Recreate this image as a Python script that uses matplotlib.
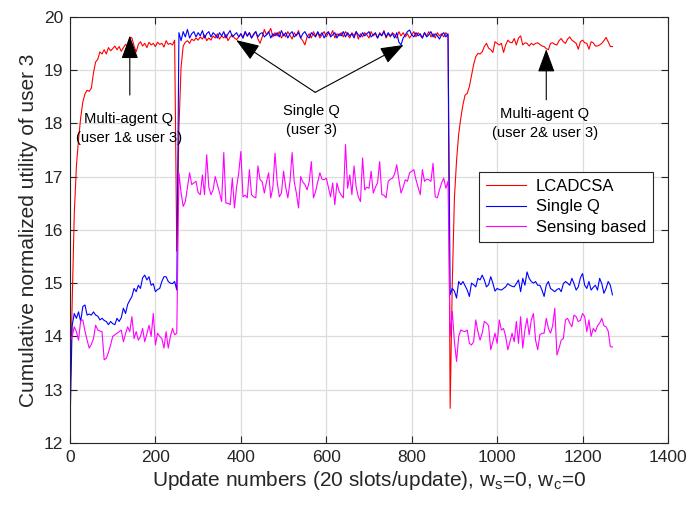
import numpy as np
import matplotlib
matplotlib.use("Agg")
import matplotlib.pyplot as plt

plt.rcParams['font.family'] = ['Liberation Sans', 'DejaVu Sans']
plt.rcParams['mathtext.fontset'] = 'custom'
plt.rcParams['mathtext.rm'] = 'Liberation Sans'

# Update index (one sample every 5 updates)
updates = np.arange(0, 1271, 5)

lcadcsa = [
    12.8, 14.6, 16.3, 17.2, 17.7, 18.1, 18.4, 18.55, 18.62, 18.6,
    18.66, 18.95, 19.15, 19.2, 19.34, 19.3, 19.38, 19.3, 19.42, 19.36,
    19.4, 19.45, 19.38, 19.44, 19.35, 19.42, 19.48, 19.45, 19.62, 19.6,
    19.45, 19.34, 19.48, 19.53, 19.45, 19.5, 19.42, 19.52, 19.47, 19.5,
    19.44, 19.52, 19.48, 19.5, 19.43, 19.55, 19.48, 19.5, 19.47, 19.56,
    15.6, 17.9, 19.05, 19.45, 19.52, 19.55, 19.5, 19.58, 19.55, 19.6,
    19.56, 19.62, 19.58, 19.66, 19.55, 19.6, 19.56, 19.64, 19.6, 19.68,
    19.58, 19.64, 19.6, 19.67, 19.55, 19.62, 19.66, 19.6, 19.57, 19.62,
    19.68, 19.6, 19.72, 19.63, 19.7, 19.6, 19.68, 19.72, 19.58, 19.5,
    19.62, 19.76, 19.66, 19.7, 19.78, 19.62, 19.7, 19.64, 19.72, 19.6,
    19.68, 19.62, 19.72, 19.65, 19.58, 19.7, 19.64, 19.74, 19.6, 19.55,
    19.47, 19.62, 19.68, 19.6, 19.72, 19.64, 19.7, 19.6, 19.66, 19.72,
    19.62, 19.7, 19.65, 19.74, 19.6, 19.68, 19.64, 19.7, 19.62, 19.72,
    19.66, 19.6, 19.7, 19.64, 19.72, 19.58, 19.68, 19.62, 19.7, 19.66,
    19.6, 19.72, 19.64, 19.68, 19.6, 19.7, 19.65, 19.74, 19.6, 19.68,
    19.62, 19.7, 19.66, 19.6, 19.72, 19.64, 19.7, 19.62, 19.68, 19.6,
    19.66, 19.72, 19.62, 19.7, 19.65, 19.6, 19.7, 19.64, 19.72, 19.62,
    19.68, 19.6, 19.7, 19.64, 19.68, 19.62, 19.7, 19.65, 12.65, 15.0,
    16.6, 17.3, 17.8, 18.1, 18.35, 18.53, 18.56, 18.69, 18.9, 19.1,
    19.25, 19.31, 19.3, 19.34, 19.44, 19.5, 19.41, 19.38, 19.33, 19.53,
    19.5, 19.47, 19.5, 19.33, 19.47, 19.56, 19.52, 19.51, 19.59, 19.47,
    19.6, 19.64, 19.47, 19.51, 19.5, 19.45, 19.5, 19.47, 19.5, 19.51,
    19.48, 19.45, 19.44, 19.4, 19.38, 19.5, 19.51, 19.48, 19.47, 19.55,
    19.59, 19.53, 19.5, 19.58, 19.62, 19.56, 19.53, 19.5, 19.39, 19.53,
    19.56, 19.51, 19.5, 19.39, 19.53, 19.51, 19.45, 19.45, 19.47, 19.5,
    19.55, 19.61, 19.53, 19.44, 19.44,
]

single_q = [
    12.3, 14.2, 14.43, 14.34, 14.46, 14.28, 14.56, 14.59, 14.4, 14.42,
    14.4, 14.46, 14.4, 14.38, 14.31, 14.34, 14.3, 14.28, 14.22, 14.28,
    14.24, 14.22, 14.34, 14.28, 14.35, 14.53, 14.43, 14.6, 14.68, 14.75,
    14.9, 14.84, 14.96, 14.9, 15.1, 15.15, 15.06, 15.12, 14.96, 14.99,
    14.84, 14.88, 14.9, 15.03, 15.12, 15.12, 15.03, 15.0, 14.99, 15.03,
    14.87, 19.7, 19.55, 19.72, 19.62, 19.76, 19.6, 19.68, 19.72, 19.62,
    19.7, 19.64, 19.74, 19.6, 19.68, 19.72, 19.62, 19.7, 19.66, 19.6,
    19.7, 19.64, 19.72, 19.6, 19.68, 19.74, 19.62, 19.66, 19.7, 19.62,
    19.68, 19.6, 19.72, 19.64, 19.7, 19.6, 19.66, 19.72, 19.62, 19.68,
    19.7, 19.62, 19.66, 19.72, 19.6, 19.68, 19.64, 19.7, 19.62, 19.74,
    19.64, 19.7, 19.6, 19.68, 19.72, 19.62, 19.66, 19.7, 19.6, 19.68,
    19.72, 19.64, 19.6, 19.7, 19.66, 19.62, 19.72, 19.64, 19.7, 19.6,
    19.68, 19.72, 19.62, 19.66, 19.7, 19.6, 19.68, 19.64, 19.72, 19.62,
    19.7, 19.64, 19.68, 19.6, 19.72, 19.66, 19.62, 19.7, 19.64, 19.68,
    19.72, 19.62, 19.66, 19.7, 19.6, 19.68, 19.64, 19.72, 19.62, 19.7,
    19.64, 19.68, 19.6, 19.7, 19.52, 19.47, 19.6, 19.66, 19.72, 19.75,
    19.66, 19.62, 19.7, 19.64, 19.68, 19.6, 19.7, 19.62, 19.66, 19.72,
    19.62, 19.68, 19.64, 19.58, 19.66, 19.7, 19.62, 19.68, 14.78, 14.9,
    14.85, 14.72, 15.03, 14.97, 15.03, 14.95, 14.87, 14.75, 15.0, 14.97,
    14.93, 15.09, 15.06, 15.15, 15.06, 14.93, 14.97, 15.12, 15.0, 14.85,
    14.9, 14.88, 14.87, 14.9, 14.93, 14.99, 14.96, 14.94, 14.93, 14.99,
    15.06, 14.84, 15.09, 14.96, 15.21, 15.09, 15.03, 15.0, 15.03, 14.96,
    14.96, 14.87, 14.75, 14.96, 15.03, 14.9, 14.87, 14.84, 14.88, 14.9,
    14.84, 14.99, 15.03, 15.0, 14.96, 15.09, 14.99, 14.87, 14.93, 15.1,
    15.18, 14.96, 14.9, 15.03, 14.87, 14.92, 14.96, 14.87, 15.09, 14.99,
    14.81, 14.9, 15.03, 14.96, 14.78,
]

sensing = [
    13.9, 14.0, 14.18, 14.09, 13.93, 14.3, 14.31, 14.1, 13.93, 13.78,
    13.85, 13.96, 14.21, 14.12, 14.1, 14.09, 13.56, 13.59, 13.7, 13.84,
    14.0, 14.03, 14.06, 14.09, 14.12, 13.9, 14.05, 14.18, 14.09, 14.37,
    13.96, 14.09, 13.93, 14.0, 14.15, 13.9, 14.05, 14.21, 14.0, 14.43,
    13.84, 14.06, 14.0, 13.96, 13.78, 14.09, 13.78, 14.0, 14.15, 14.03,
    14.06, 17.07, 16.7, 16.44, 16.53, 16.8, 17.07, 16.85, 16.88, 16.91,
    16.7, 16.66, 17.03, 16.66, 17.41, 16.8, 16.66, 16.75, 17.0, 16.85,
    16.7, 16.53, 17.45, 16.5, 16.5, 16.47, 16.97, 16.41, 16.8, 17.07,
    17.47, 16.62, 16.65, 16.6, 17.13, 16.66, 16.62, 16.6, 17.2, 16.94,
    16.9, 16.69, 16.9, 17.07, 16.6, 16.8, 17.44, 16.9, 16.62, 16.69,
    17.1, 16.8, 16.6, 16.9, 17.45, 16.9, 16.69, 16.41, 17.0, 16.9,
    16.85, 16.75, 16.9, 17.28, 16.6, 16.72, 16.9, 17.07, 16.95, 16.94,
    16.97, 16.8, 16.62, 16.88, 16.47, 16.88, 16.72, 16.65, 16.6, 17.6,
    16.78, 17.03, 16.66, 17.2, 16.8, 16.62, 16.53, 17.35, 16.75, 16.8,
    16.78, 17.1, 16.69, 16.8, 16.88, 17.28, 16.66, 16.65, 16.6, 16.91,
    16.95, 16.97, 17.05, 17.22, 16.94, 16.69, 16.8, 16.94, 16.91, 17.07,
    17.1, 17.13, 16.94, 16.8, 16.66, 17.13, 16.91, 16.95, 16.94, 16.91,
    17.25, 16.62, 16.6, 16.75, 16.88, 16.97, 16.78, 16.91, 14.0, 14.47,
    13.9, 13.53, 14.0, 14.12, 14.1, 14.09, 14.12, 13.87, 13.84, 13.9,
    14.31, 14.09, 13.93, 14.06, 14.28, 14.25, 14.2, 13.75, 13.9, 14.06,
    13.87, 14.31, 14.12, 14.15, 14.0, 13.75, 13.9, 14.06, 13.9, 14.28,
    13.87, 14.37, 13.78, 14.12, 14.34, 14.03, 14.31, 14.43, 13.93, 13.75,
    14.03, 14.06, 14.06, 14.34, 14.15, 14.06, 14.2, 14.53, 13.65, 13.78,
    13.93, 13.96, 14.31, 14.34, 14.25, 14.18, 14.4, 14.37, 14.28, 14.3,
    14.43, 14.37, 14.09, 14.31, 14.0, 14.15, 14.09, 14.2, 14.25, 14.34,
    14.2, 14.18, 14.1, 13.81, 13.8,
]

series_names = ['LCADCSA', 'Single Q', 'Sensing based']
series_colors = ['#FF0000', '#0000FF', '#FF00FF']

x_ticks = [0, 200, 400, 600, 800, 1000, 1200, 1400]
y_ticks = [12, 13, 14, 15, 16, 17, 18, 19, 20]

fig = plt.figure(figsize=(6.89, 5.09), dpi=100)
ax = fig.add_axes([0.1016, 0.1297, 0.8679, 0.8375])

for vals, name, col in zip([lcadcsa, single_q, sensing], series_names, series_colors):
    ax.plot(updates, vals, color=col, lw=0.8, label=name)

ax.set_xlim(0, 1400)
ax.set_ylim(12, 20)
ax.set_xticks(x_ticks)
ax.set_yticks(y_ticks)
ax.grid(True, color='#DCDCDC', lw=0.9)
ax.set_axisbelow(True)

dark = '#262626'
for s in ax.spines.values():
    s.set_color(dark)
    s.set_linewidth(0.8)
ax.tick_params(direction='in', length=5, width=0.8, colors=dark, labelsize=12.5,
               top=True, right=True, pad=5)

ax.set_xlabel(r'Update numbers (20 slots/update), w$_\mathregular{s}$=0, w$_\mathregular{c}$=0',
              fontsize=15, color=dark, labelpad=3)
ax.set_ylabel('Cumulative normalized utility of user 3', fontsize=15, color=dark, labelpad=4)

leg = ax.legend(loc='upper left', bbox_to_anchor=(0.684, 0.636), borderaxespad=0,
                fontsize=12, frameon=True, fancybox=False, edgecolor=dark, framealpha=1,
                handlelength=2.4, borderpad=0.4, labelspacing=0.35, handletextpad=0.6)
leg.get_frame().set_linewidth(0.8)

arrow = dict(arrowstyle='-|>,head_length=0.9,head_width=0.33', color='k', lw=0.8,
             mutation_scale=16, shrinkA=0, shrinkB=0)

ax.annotate('', xy=(140, 19.64), xytext=(140, 18.53), arrowprops=arrow)
ax.text(138, 17.91, 'Multi-agent Q\n(user 1& user 3)', ha='center', va='center',
        fontsize=10.6, linespacing=1.45)

ax.annotate('', xy=(389, 19.56), xytext=(574, 18.58), arrowprops=arrow)
ax.annotate('', xy=(781, 19.47), xytext=(574, 18.58), arrowprops=arrow)
ax.text(566, 18.06, 'Single Q\n(user 3)', ha='center', va='center',
        fontsize=10.6, linespacing=1.45)

ax.annotate('', xy=(1115, 19.39), xytext=(1115, 18.44), arrowprops=arrow)
ax.text(1112, 18.0, 'Multi-agent Q\n(user 2& user 3)', ha='center', va='center',
        fontsize=10.6, linespacing=1.45)

fig.savefig('out.png', dpi=100)
